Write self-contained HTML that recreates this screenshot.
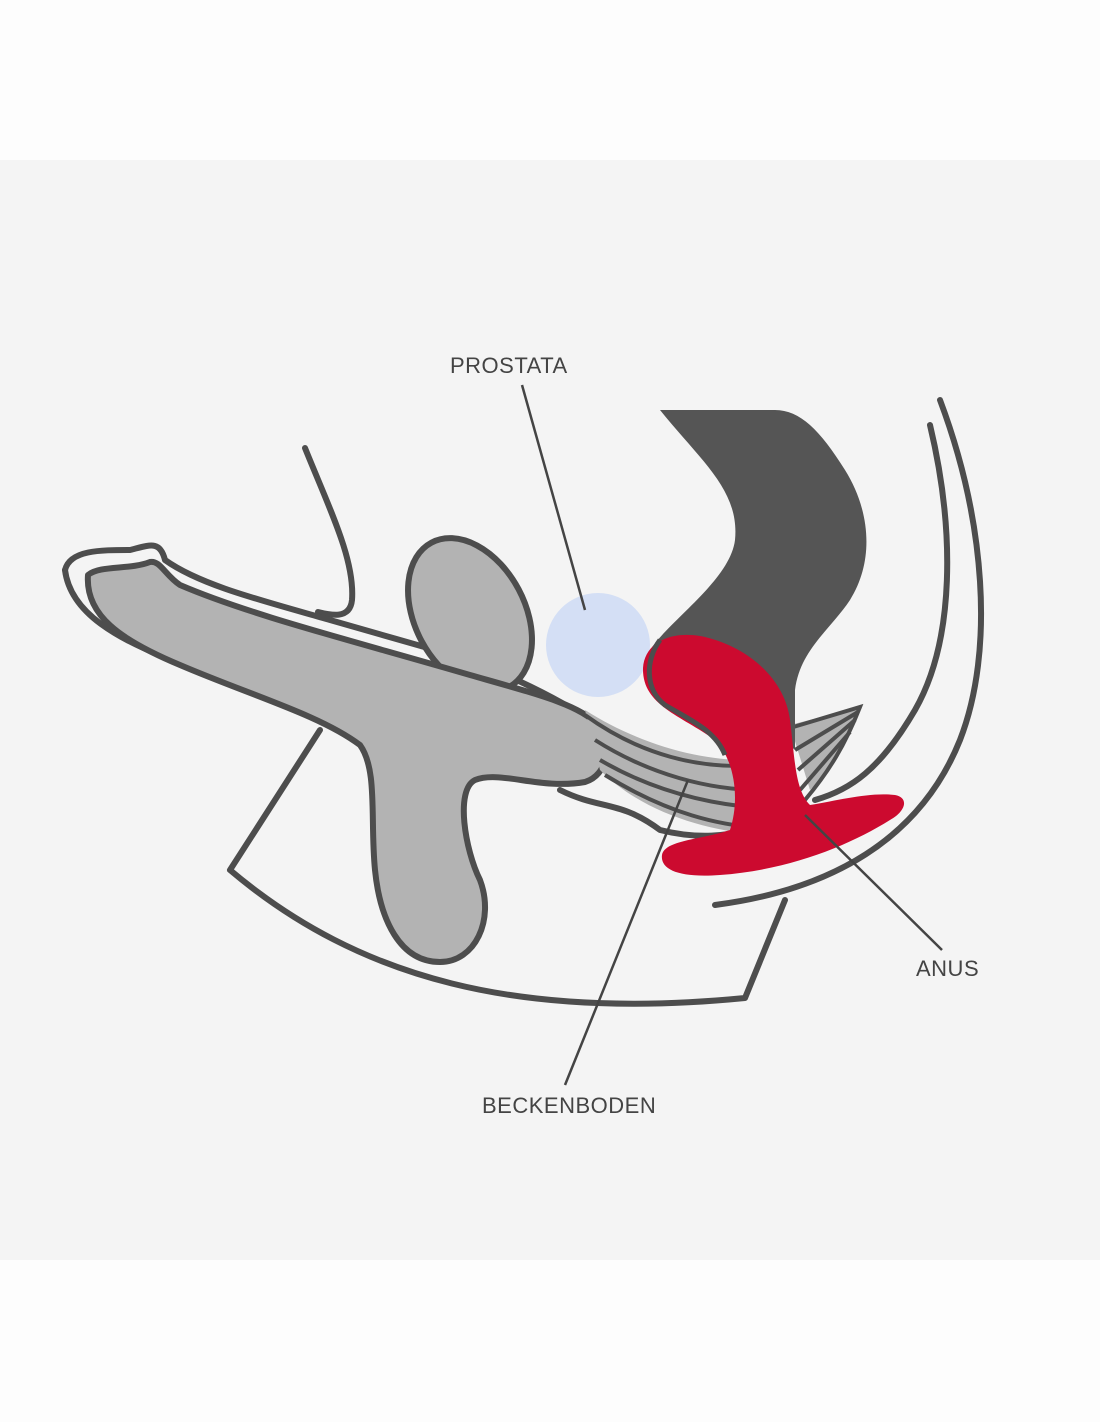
<!DOCTYPE html>
<html><head><meta charset="utf-8"><style>
html,body{margin:0;padding:0;background:#fdfdfd;width:1100px;height:1422px;overflow:hidden}
svg{display:block}
text{font-family:"Liberation Sans",sans-serif;font-size:22px;fill:#444;letter-spacing:0.5px}
</style></head><body>
<svg width="1100" height="1422" viewBox="0 0 1100 1422">
<rect x="0" y="160" width="1100" height="1100" fill="#f4f4f4"/>
<g fill="none" stroke="#4d4d4d" stroke-width="6" stroke-linecap="round" stroke-linejoin="round">
<!-- back arcs -->
<path d="M940 400 C985 520 995 650 960 740 C920 840 830 890 715 905"/>
<path d="M930 425 C955 530 955 640 915 710 C880 770 850 790 815 800"/>
<!-- body bottom contour -->
<path d="M320 730 L230 870 C360 980 520 1020 745 998 L785 900"/>
<!-- scrotum loop -->
<path d="M305 448 C330 510 355 560 352 600 C350 620 330 615 318 612"/>
<!-- skin outline around penis -->
<path d="M65 570 C70 550 100 550 130 550 C150 545 160 540 165 560 C200 585 260 600 330 620 L470 660 C520 680 560 700 590 720"/>
<path d="M65 570 C70 610 110 640 200 670 L320 720"/>
<!-- lower contour to pelvic floor -->
<path d="M560 790 C600 810 620 800 660 830 C700 840 730 835 745 830"/>
</g>
<!-- testicle -->
<ellipse cx="470" cy="615" rx="55" ry="82" transform="rotate(-28 470 615)" fill="#b3b3b3" stroke="#4d4d4d" stroke-width="6"/>
<!-- penis body -->
<path d="M88 575 C100 565 130 570 150 562 C160 560 165 575 180 585 C250 615 350 640 470 675 C540 695 580 705 598 725 C612 745 608 775 585 782 C540 790 500 770 475 780 C455 790 465 850 480 880 C495 920 475 962 440 962 C400 962 380 920 375 870 C370 820 378 770 360 745 C320 715 250 695 180 665 C120 640 85 615 88 575 Z" fill="#b3b3b3" stroke="#4d4d4d" stroke-width="6" stroke-linejoin="round"/>
<!-- prostate -->
<circle cx="598" cy="645" r="52" fill="#d4dff5"/>
<!-- pelvic floor muscles -->
<path d="M585 710 C640 745 700 760 745 760 L760 835 C700 830 640 810 600 770 Z" fill="#b3b3b3"/>
<path d="M790 725 L860 707 C850 740 830 770 810 790 Z" fill="#b3b3b3"/>
<g fill="none" stroke="#4d4d4d" stroke-width="4">
<path d="M585 715 C640 755 700 770 760 765"/>
<path d="M595 740 C650 775 710 790 760 790"/>
<path d="M600 760 C660 795 720 805 760 808"/>
<path d="M605 775 C670 815 720 825 760 828"/>
<path d="M790 728 L860 707 C845 745 830 770 805 800"/>
<path d="M795 750 L858 712"/><path d="M798 770 L855 720"/><path d="M800 790 L850 732"/>
</g>
<!-- rectum -->
<path d="M660 410 L775 410 C800 410 820 430 845 470 C870 510 875 560 850 600 C830 630 800 650 795 690 L795 750 L740 700 L650 650 C670 620 730 580 735 540 C740 490 700 460 660 410 Z" fill="#555"/>
<!-- plug -->
<path d="M643 668 C645 640 675 630 705 637 C750 648 785 680 790 720 C795 760 795 790 810 805 C840 800 870 792 895 795 C910 798 905 812 890 820 C850 845 790 870 720 875 C680 878 660 870 662 855 C665 840 700 840 730 830 C740 800 735 760 715 740 C680 715 642 705 643 668 Z" fill="#cc0a2f" stroke="#4d4d4d" stroke-width="0"/>
<path d="M660 640 C645 660 645 690 665 705 C690 720 715 730 725 755" fill="none" stroke="#4d4d4d" stroke-width="5"/>
<!-- leader lines -->
<g stroke="#444" stroke-width="2.5">
<line x1="522" y1="385" x2="585" y2="610"/>
<line x1="565" y1="1085" x2="688" y2="780"/>
<line x1="942" y1="950" x2="805" y2="815"/>
</g>
<text x="450" y="373">PROSTATA</text>
<text x="482" y="1113">BECKENBODEN</text>
<text x="916" y="976">ANUS</text>
</svg>
</body></html>
